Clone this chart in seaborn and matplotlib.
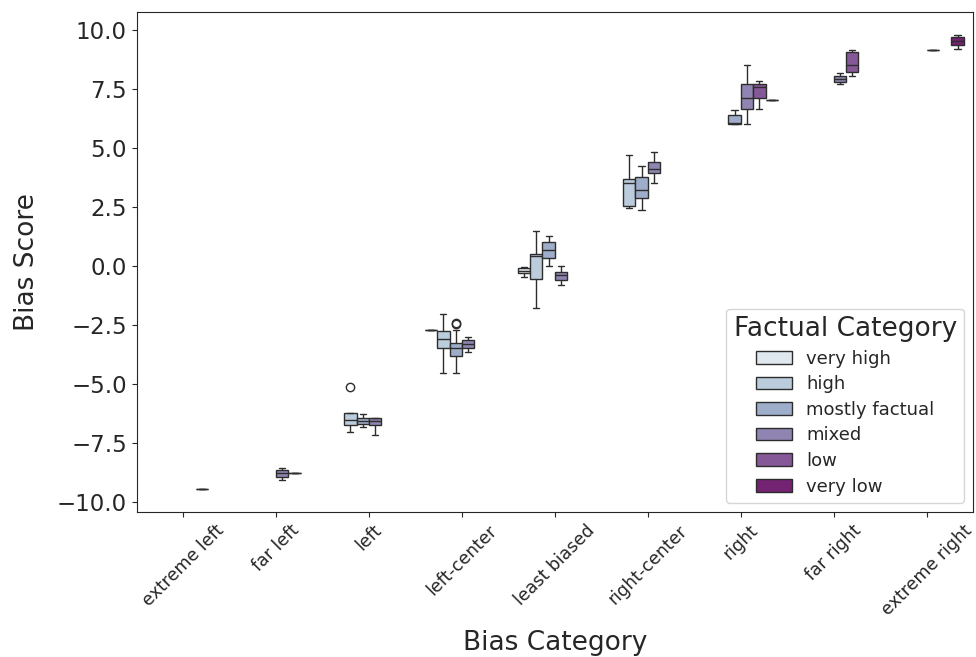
import pandas as pd
import numpy as np
import matplotlib
matplotlib.use("Agg")
import matplotlib.pyplot as plt
import seaborn as sns

# Category orders
bias_order = ['extreme left', 'far left', 'left', 'left-center', 'least biased',
              'right-center', 'right', 'far right', 'extreme right']
fact_order = ['very high', 'high', 'mostly factual', 'mixed', 'low', 'very low']

# One entry per (bias, factual) group, scores
group_bias = ['extreme left',
              'far left', 'far left',
              'left', 'left', 'left',
              'left-center', 'left-center', 'left-center', 'left-center',
              'least biased', 'least biased', 'least biased', 'least biased',
              'right-center', 'right-center', 'right-center',
              'right', 'right', 'right', 'right',
              'far right', 'far right',
              'extreme right', 'extreme right']
group_fact = ['low',
              'mixed', 'low',
              'high', 'mostly factual', 'mixed',
              'very high', 'high', 'mostly factual', 'mixed',
              'very high', 'high', 'mostly factual', 'mixed',
              'high', 'mostly factual', 'mixed',
              'mostly factual', 'mixed', 'low', 'very low',
              'mixed', 'low',
              'mixed', 'very low']
group_scores = [
    [-9.44, -9.44],
    [-9.04, -8.93, -8.76, -8.64, -8.53],
    [-8.76, -8.76],
    [-7.02, -6.9, -6.74, -6.6, -6.53, -6.4, -6.24, -6.24, -5.14],
    [-6.81, -6.67, -6.55, -6.43, -6.28],
    [-7.16, -6.74, -6.57, -6.43, -6.43],
    [-2.7, -2.7],
    [-4.52, -3.46, -3.11, -2.74, -2.03],
    [-4.52, -4.2, -4.0, -3.81, -3.7, -3.6, -3.46, -3.4, -3.35, -3.28, -2.71, -2.45, -2.4],
    [-3.63, -3.46, -3.31, -3.14, -3.02],
    [-0.48, -0.31, -0.2, -0.07, -0.03],
    [-1.79, -0.55, 0.44, 0.51, 1.48],
    [0.01, 0.33, 0.68, 1.03, 1.28],
    [-0.81, -0.59, -0.38, -0.24, 0.01],
    [2.47, 2.54, 3.53, 3.69, 4.70],
    [2.37, 2.87, 3.22, 3.78, 4.21],
    [3.50, 3.93, 4.10, 4.38, 4.84],
    [6.02, 6.02, 6.06, 6.37, 6.61],
    [6.0, 6.64, 7.11, 7.70, 8.52],
    [6.64, 7.11, 7.56, 7.70, 7.81],
    [7.03, 7.03],
    [7.70, 7.77, 7.91, 8.05, 8.17],
    [8.02, 8.19, 8.52, 9.04, 9.15],
    [9.12, 9.12],
    [9.19, 9.36, 9.53, 9.67, 9.79],
]

rows = []
for b, f, vals in zip(group_bias, group_fact, group_scores):
    for v in vals:
        rows.append({'Bias Category': b, 'Factual Category': f, 'Bias Score': v})
df = pd.DataFrame(rows)

sns.set_style("ticks")

fig, ax = plt.subplots(figsize=(9.76, 6.57), dpi=100)
fig.subplots_adjust(left=0.140, right=0.997, bottom=0.221, top=0.982)

sns.boxplot(data=df, x='Bias Category', y='Bias Score', hue='Factual Category',
            order=bias_order, hue_order=fact_order, palette='BuPu', ax=ax)

ax.set_xlabel('Bias Category', fontsize=19, labelpad=8)
ax.set_ylabel('Bias Score', fontsize=19, labelpad=12)
ax.tick_params(axis='y', labelsize=16.5)
ax.tick_params(axis='x', labelsize=12.5)
plt.setp(ax.get_xticklabels(), rotation=45)
ax.set_yticks([-10, -7.5, -5, -2.5, 0, 2.5, 5, 7.5, 10])

sns.move_legend(ax, 'lower right', title='Factual Category',
                title_fontsize=19, fontsize=13, labelspacing=0.42)

fig.savefig('out.png', dpi=100)
